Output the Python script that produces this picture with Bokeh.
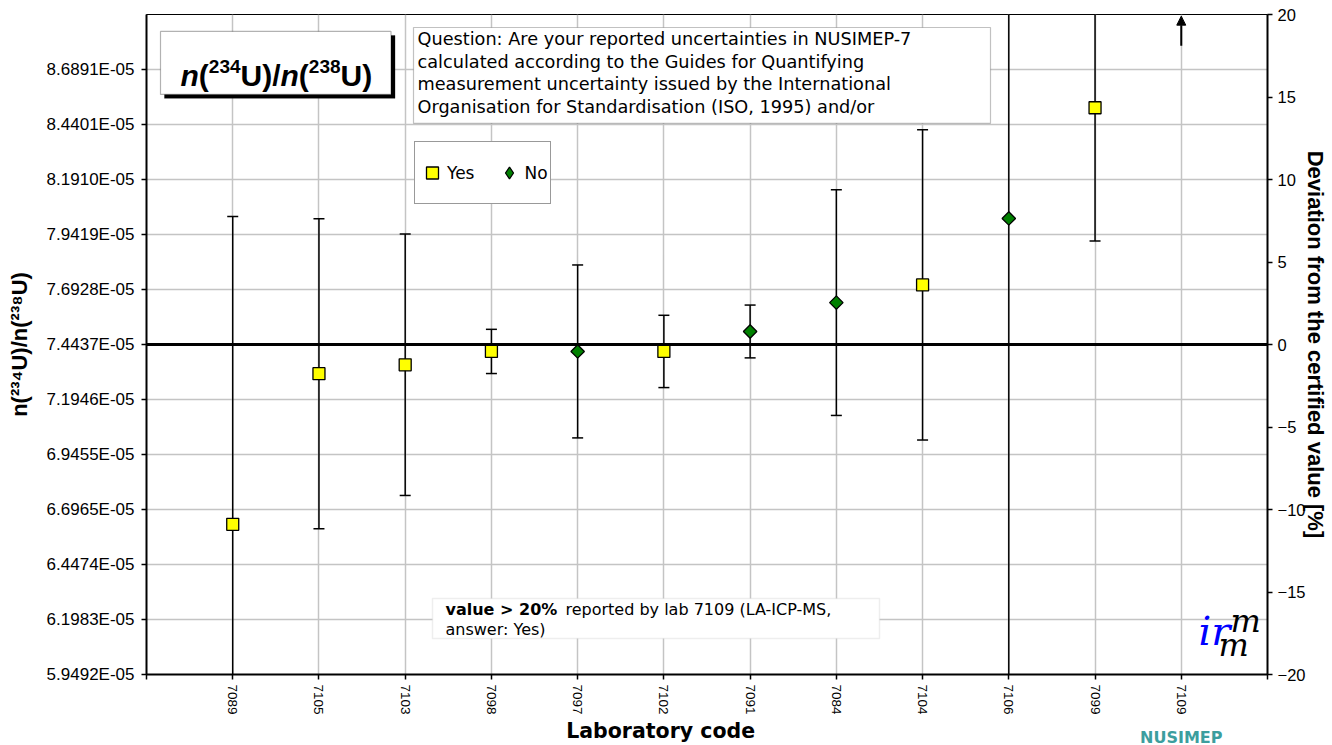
import math
from bokeh.plotting import figure
from bokeh.models import (Range1d, LinearAxis, FixedTicker, Span, Label, BoxAnnotation,
                          Legend, LegendItem, Arrow, NormalHead, ColumnDataSource, Title)
from bokeh.embed import file_html
from bokeh.resources import INLINE

# ---------------- data ----------------
labs = ["7089", "7105", "7103", "7098", "7097", "7102", "7091", "7084", "7104", "7106", "7099", "7109"]
answers = ["Yes", "Yes", "Yes", "Yes", "No", "Yes", "No", "No", "Yes", "No", "Yes", "Yes"]
ratio = [6.6292e-5, 7.3114e-5, 7.3518e-5, 7.4123e-5, 7.4123e-5, 7.4123e-5,
         7.5027e-5, 7.6335e-5, 7.7135e-5, 8.0146e-5, 8.5160e-5, None]
uncert = [1.3944e-5, 0.7017e-5, 0.5918e-5, 0.1001e-5, 0.3916e-5, 0.1637e-5,
          0.1196e-5, 0.5111e-5, 0.7024e-5, 2.6000e-5, 0.6038e-5, None]
certified = 7.4437e-5
left_tick_labels = ["5.9492E-05", "6.1983E-05", "6.4474E-05", "6.6965E-05", "6.9455E-05", "7.1946E-05",
                    "7.4437E-05", "7.6928E-05", "7.9419E-05", "8.1910E-05", "8.4401E-05", "8.6891E-05"]
left_top = 8.9382e-5
dev_ticks = [-20, -15, -10, -5, 0, 5, 10, 15, 20]
offscale_lab = "7109"

# ---------------- geometry helpers (annotation placement only) ----------------
W, H = 1332, 745
FL, FR, FT, FB = 146, 1267, 14, 675
NX = len(labs) + 1
Y0 = float(left_tick_labels[0])
Y1 = left_top


def X(px):
    return (px - FL) / (FR - FL) * NX


def Y(py):
    return Y0 + (FB - py) / (FB - FT) * (Y1 - Y0)


TICKFONT = "Liberation Sans"
BOXFONT = "DejaVu Sans"

p = figure(width=W, height=H, x_range=Range1d(0, NX), y_range=Range1d(Y0, Y1),
           output_backend="svg", toolbar_location=None,
           min_border_left=FL, min_border_right=W - FR, min_border_top=FT, min_border_bottom=H - FB,
           background_fill_color="white", border_fill_color="white")
p.outline_line_color = "black"
p.outline_line_width = 1

xs = list(range(1, len(labs) + 1))

# axes
left_ticks = [float(s) for s in left_tick_labels]
p.yaxis.ticker = FixedTicker(ticks=left_ticks)
p.yaxis.major_label_overrides = {t: s for t, s in zip(left_ticks, left_tick_labels)}
p.xaxis.ticker = FixedTicker(ticks=[0] + xs + [NX])
ov = {i: l for i, l in zip(xs, labs)}
ov[0] = ""
ov[NX] = ""
p.xaxis.major_label_overrides = ov
p.xaxis.major_label_orientation = "vertical"

p.extra_y_ranges = {"dev": Range1d(dev_ticks[0], dev_ticks[-1])}
rax = LinearAxis(y_range_name="dev", ticker=FixedTicker(ticks=dev_ticks))
p.add_layout(rax, "right")

for ax in [p.xaxis[0], p.yaxis[0], rax]:
    ax.axis_line_color = "black"
    ax.axis_line_width = 2
    ax.major_tick_line_color = "black"
    ax.major_tick_line_width = 1.5
    ax.major_tick_out = 5
    ax.major_tick_in = 0
    ax.minor_tick_line_color = None
    ax.major_label_text_font = TICKFONT
    ax.major_label_text_color = "black"
    ax.axis_label_text_color = "black"
    ax.axis_label_text_font_style = "bold"

p.yaxis[0].major_label_text_font_size = "17px"
p.yaxis[0].major_label_standoff = 7
p.yaxis[0].axis_label = "n(\u00b2\u00b3\u2074U)/n(\u00b2\u00b3\u2078U)"
p.yaxis[0].axis_label_text_font = TICKFONT
p.yaxis[0].axis_label_text_font_size = "22px"
p.yaxis[0].axis_label_standoff = 12

rax.major_label_text_font_size = "16.5px"
rax.major_label_standoff = 5
rax.axis_label = "Deviation from the certified value [%]"
rax.axis_label_text_font = TICKFONT
rax.axis_label_text_font_size = "22px"
rax.axis_label_standoff = -5

p.xaxis[0].major_label_text_font_size = "13.5px"
p.xaxis[0].major_label_standoff = 5
p.xaxis[0].axis_label = "Laboratory code" + "\u00a0" * 13
p.xaxis[0].axis_label_text_font = BOXFONT
p.xaxis[0].axis_label_text_font_size = "20.5px"
p.xaxis[0].axis_label_standoff = 1

# grids
p.xgrid.ticker = FixedTicker(ticks=xs)
p.ygrid.ticker = FixedTicker(ticks=left_ticks)
p.grid.grid_line_color = "#c4c4c4"
p.grid.grid_line_width = 1.5

# certified value line
p.add_layout(Span(location=certified, dimension="width", line_color="black", line_width=3, level="underlay"))

# error bars
ex, elo, ehi = [], [], []
for x, v, u in zip(xs, ratio, uncert):
    if v is None:
        continue
    ex.append(x)
    elo.append(v - u)
    ehi.append(v + u)
eb = ColumnDataSource(dict(x=ex, lo=elo, hi=ehi))
p.segment(x0="x", y0="lo", x1="x", y1="hi", source=eb, line_color="black", line_width=1.5)
p.scatter(x="x", y="lo", source=eb, marker="dash", size=11, line_color="black", line_width=1.5)
p.scatter(x="x", y="hi", source=eb, marker="dash", size=11, line_color="black", line_width=1.5)


# markers
def sel(ans):
    d = dict(x=[], y=[], lab=[])
    for x, v, a, l in zip(xs, ratio, answers, labs):
        if a == ans and v is not None:
            d["x"].append(x)
            d["y"].append(v)
            d["lab"].append(l)
    return ColumnDataSource(d)


YES_FILL, NO_FILL = "#FFFF00", "#008000"
r_yes = p.scatter(x="x", y="y", source=sel("Yes"), marker="square", size=12,
                  fill_color=YES_FILL, line_color="black", line_width=1.3)
r_no = p.scatter(x="x", y="y", source=sel("No"), marker="square", angle=math.pi / 4, size=9.5,
                 fill_color=NO_FILL, line_color="black", line_width=1.3)
# legend key for "No" (diamond shape; its only point is NaN, so it draws nothing in the plot)
r_no_key = p.scatter(x=[float("nan")], y=[float("nan")], marker="diamond",
                     fill_color=NO_FILL, line_color="black", line_width=1.3)

# off-scale arrow (value > 20 %)
xo = xs[labs.index(offscale_lab)]
p.add_layout(Arrow(end=NormalHead(size=9, fill_color="black", line_color="black"),
                   x_start=xo, x_end=xo, y_start=dev_ticks[-1] - 1.9, y_end=dev_ticks[-1] - 0.1,
                   y_range_name="dev", line_color="black", line_width=2))

K = 0.3  # baseline compensation (fraction of font size)


def lab(px, py, text, size, font=TICKFONT, style="normal", color="black", align="left"):
    p.add_layout(Label(x=X(px), y=Y(py - K * size), text=text, text_font=font,
                       text_font_size=f"{size}px", text_font_style=style, text_color=color,
                       text_align=align, text_baseline="alphabetic"))


# rich text (Arial-bold advance widths)
ADV = {"n": .611, "(": .333, ")": .333, "U": .722, "/": .278}


def adv(t):
    return sum(ADV.get(c, .556) for c in t)


def rich(pieces, px0, py0):
    cur = 0.0
    for text, size, italic, rise in pieces:
        style = "bold italic" if italic else "bold"
        lab(px0 + cur, py0 - rise, text, size, style=style)
        cur += adv(text) * size


# title box with shadow
p.add_layout(BoxAnnotation(left=X(164), right=X(394.5), top=Y(35), bottom=Y(98),
                           fill_color="black", fill_alpha=1, line_color="black"))
p.add_layout(BoxAnnotation(left=X(160), right=X(390.5), top=Y(31), bottom=Y(94),
                           fill_color="white", fill_alpha=1, line_color="black", line_width=1.2))
S, s = 30, 19
rich([("n", S, True, 0), ("(", S, False, 0), ("234", s, False, 12), ("U)/", S, False, 0),
      ("n", S, True, 0), ("(", S, False, 0), ("238", s, False, 12), ("U)", S, False, 0)], 180, 84)

# question box
p.add_layout(BoxAnnotation(left=X(413), right=X(990), top=Y(27), bottom=Y(123),
                           fill_color="white", fill_alpha=1, line_color="#333333", line_width=1.2))
qlines = ["Question:  Are your reported uncertainties in NUSIMEP-7",
          "calculated according to the Guides for Quantifying",
          "measurement uncertainty issued by the International",
          "Organisation for Standardisation (ISO, 1995) and/or"]
for i, t in enumerate(qlines):
    lab(417, 44 + i * 22.6, t, 17.7, font=BOXFONT)

# note box
p.add_layout(BoxAnnotation(left=X(432), right=X(879), top=Y(599), bottom=Y(639),
                           fill_color="white", fill_alpha=1, line_color="#c8c8c8", line_width=1.5))
lab(445, 615, "value > 20%", 16, font=BOXFONT, style="bold")
lab(565, 615, "reported by lab 7109 (LA-ICP-MS,", 16, font=BOXFONT)
lab(445, 635, "answer:  Yes)", 16, font=BOXFONT)

# legend
legend = Legend(items=[LegendItem(label="Yes", renderers=[r_yes]),
                       LegendItem(label="No", renderers=[r_no_key])],
                location=(414 - FL, FB - 205), orientation="horizontal",
                glyph_width=30, glyph_height=57, label_height=57, padding=2, spacing=20,
                label_standoff=0, margin=0,
                label_text_font=BOXFONT, label_text_font_size="17px", label_text_color="black",
                border_line_color="#333333", border_line_width=1.2,
                background_fill_color="white", background_fill_alpha=1)
p.add_layout(legend)

# logo
lab(1198, 643, "ir", 40, font="DejaVu Serif", style="italic", color="#0000ff")
lab(1230, 631, "m", 32, font="DejaVu Serif", style="italic")
lab(1218, 655, "m", 32, font="DejaVu Serif", style="italic")

# series logo text at the bottom right (sits on the axis-title row)
p.add_layout(Title(text="NUSIMEP", align="right", offset=45, standoff=-36, vertical_align="top",
                   text_font="DejaVu Sans", text_font_size="16px", text_font_style="bold",
                   text_color="#3c9e9e"), "below")

open("out.html", "w").write(file_html(p, INLINE))
